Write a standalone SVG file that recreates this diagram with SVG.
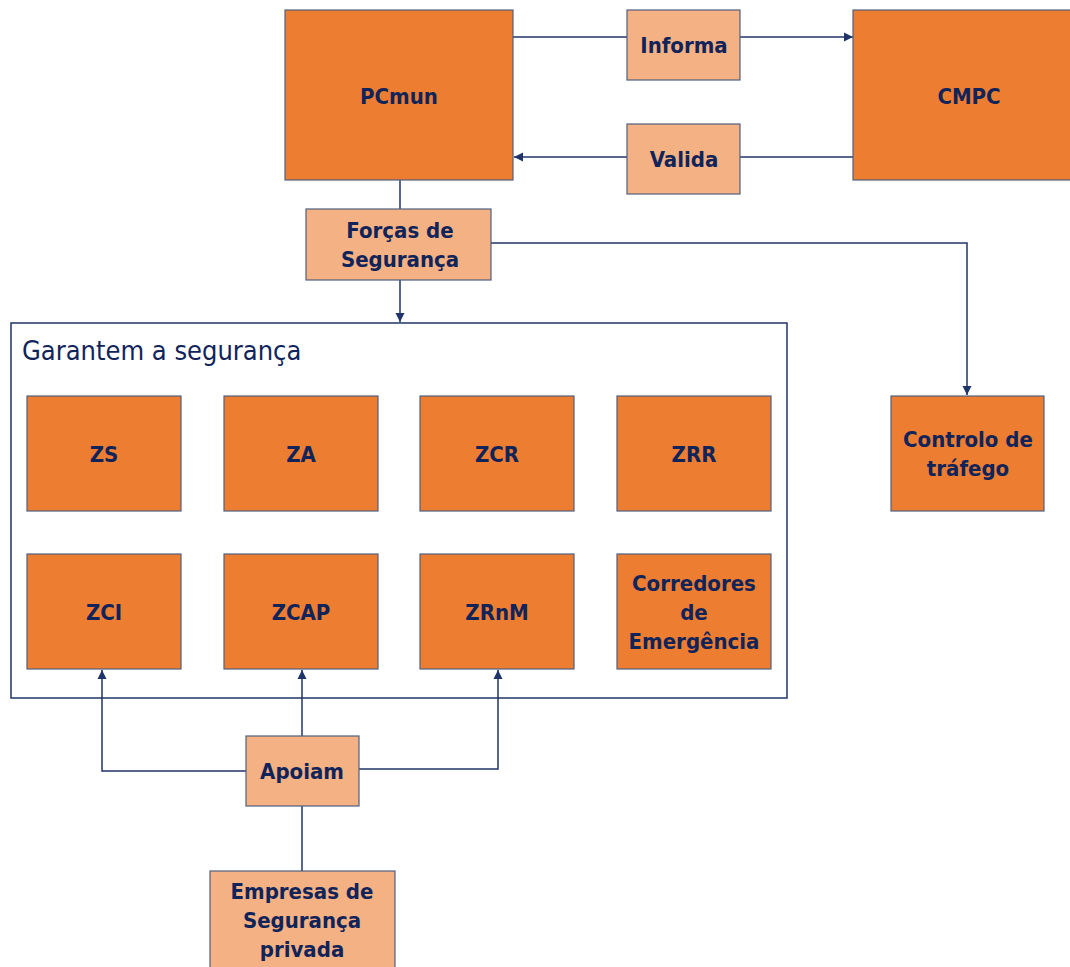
<svg xmlns="http://www.w3.org/2000/svg" width="1070" height="967" viewBox="0 0 1070 967">
<defs>
<style>
.d{fill:#ed7d31;stroke:#50607f;stroke-width:1.2}
.l{fill:#f4b183;stroke:#50607f;stroke-width:1.2}
.t{font-family:"DejaVu Sans Condensed","DejaVu Sans",sans-serif;font-weight:bold;font-size:22px;fill:#10245a;text-anchor:middle}
.c{fill:none;stroke:#1f3468;stroke-width:1.5}
</style>
<marker id="a" markerWidth="12" markerHeight="12" refX="10" refY="6" orient="auto" markerUnits="userSpaceOnUse">
<path d="M1,1.5 L10,6 L1,10.5 Z" fill="#1f3468"/>
</marker>
</defs>
<rect width="1070" height="967" fill="#ffffff"/>
<g id="connectors">
<path class="c" d="M513,37 H627"/>
<path class="c" d="M740,37 H853" marker-end="url(#a)"/>
<path class="c" d="M853,157 H740"/>
<path class="c" d="M627,157 H514" marker-end="url(#a)"/>
<path class="c" d="M400,180 V209"/>
<path class="c" d="M400,280 V322" marker-end="url(#a)"/>
<path class="c" d="M491,243 H967 V395" marker-end="url(#a)"/>
<path class="c" d="M246,771 H102 V670" marker-end="url(#a)"/>
<path class="c" d="M302,736 V670" marker-end="url(#a)"/>
<path class="c" d="M359,769 H498 V670" marker-end="url(#a)"/>
<path class="c" d="M302,806 V871"/>
</g>
<g id="garantem">
<rect x="11" y="323" width="776" height="375" fill="none" stroke="#1f3468" stroke-width="1.5"/>
<text x="22" y="360" font-family="DejaVu Sans Condensed, DejaVu Sans, sans-serif" font-size="27" fill="#10245a">Garantem a segurança</text>
</g>
<g id="pcmun"><rect class="d" x="285" y="10" width="228" height="170"/><text class="t" x="399" y="104">PCmun</text></g>
<g id="informa"><rect class="l" x="627" y="10" width="113" height="70"/><text class="t" x="684" y="53">Informa</text></g>
<g id="valida"><rect class="l" x="627" y="124" width="113" height="70"/><text class="t" x="684" y="167">Valida</text></g>
<g id="cmpc"><rect class="d" x="853" y="10" width="225" height="170"/><text class="t" x="969" y="104">CMPC</text></g>
<g id="forcas"><rect class="l" x="306" y="209" width="185" height="71"/><text class="t" x="400" y="238">Forças de</text><text class="t" x="400" y="267">Segurança</text></g>
<g id="controlo"><rect class="d" x="891" y="396" width="153" height="115"/><text class="t" x="968" y="447">Controlo de</text><text class="t" x="968" y="476">tráfego</text></g>
<g id="zs"><rect class="d" x="27" y="396" width="154" height="115"/><text class="t" x="104" y="462">ZS</text></g>
<g id="za"><rect class="d" x="224" y="396" width="154" height="115"/><text class="t" x="301" y="462">ZA</text></g>
<g id="zcr"><rect class="d" x="420" y="396" width="154" height="115"/><text class="t" x="497" y="462">ZCR</text></g>
<g id="zrr"><rect class="d" x="617" y="396" width="154" height="115"/><text class="t" x="694" y="462">ZRR</text></g>
<g id="zci"><rect class="d" x="27" y="554" width="154" height="115"/><text class="t" x="104" y="620">ZCI</text></g>
<g id="zcap"><rect class="d" x="224" y="554" width="154" height="115"/><text class="t" x="301" y="620">ZCAP</text></g>
<g id="zrnm"><rect class="d" x="420" y="554" width="154" height="115"/><text class="t" x="497" y="620">ZRnM</text></g>
<g id="corredores"><rect class="d" x="617" y="554" width="154" height="115"/><text class="t" x="694" y="591">Corredores</text><text class="t" x="694" y="620">de</text><text class="t" x="694" y="649">Emergência</text></g>
<g id="apoiam"><rect class="l" x="246" y="736" width="113" height="70"/><text class="t" x="302" y="779">Apoiam</text></g>
<g id="empresas"><rect class="l" x="210" y="871" width="185" height="110"/><text class="t" x="302" y="899">Empresas de</text><text class="t" x="302" y="928">Segurança</text><text class="t" x="302" y="957">privada</text></g>
</svg>
